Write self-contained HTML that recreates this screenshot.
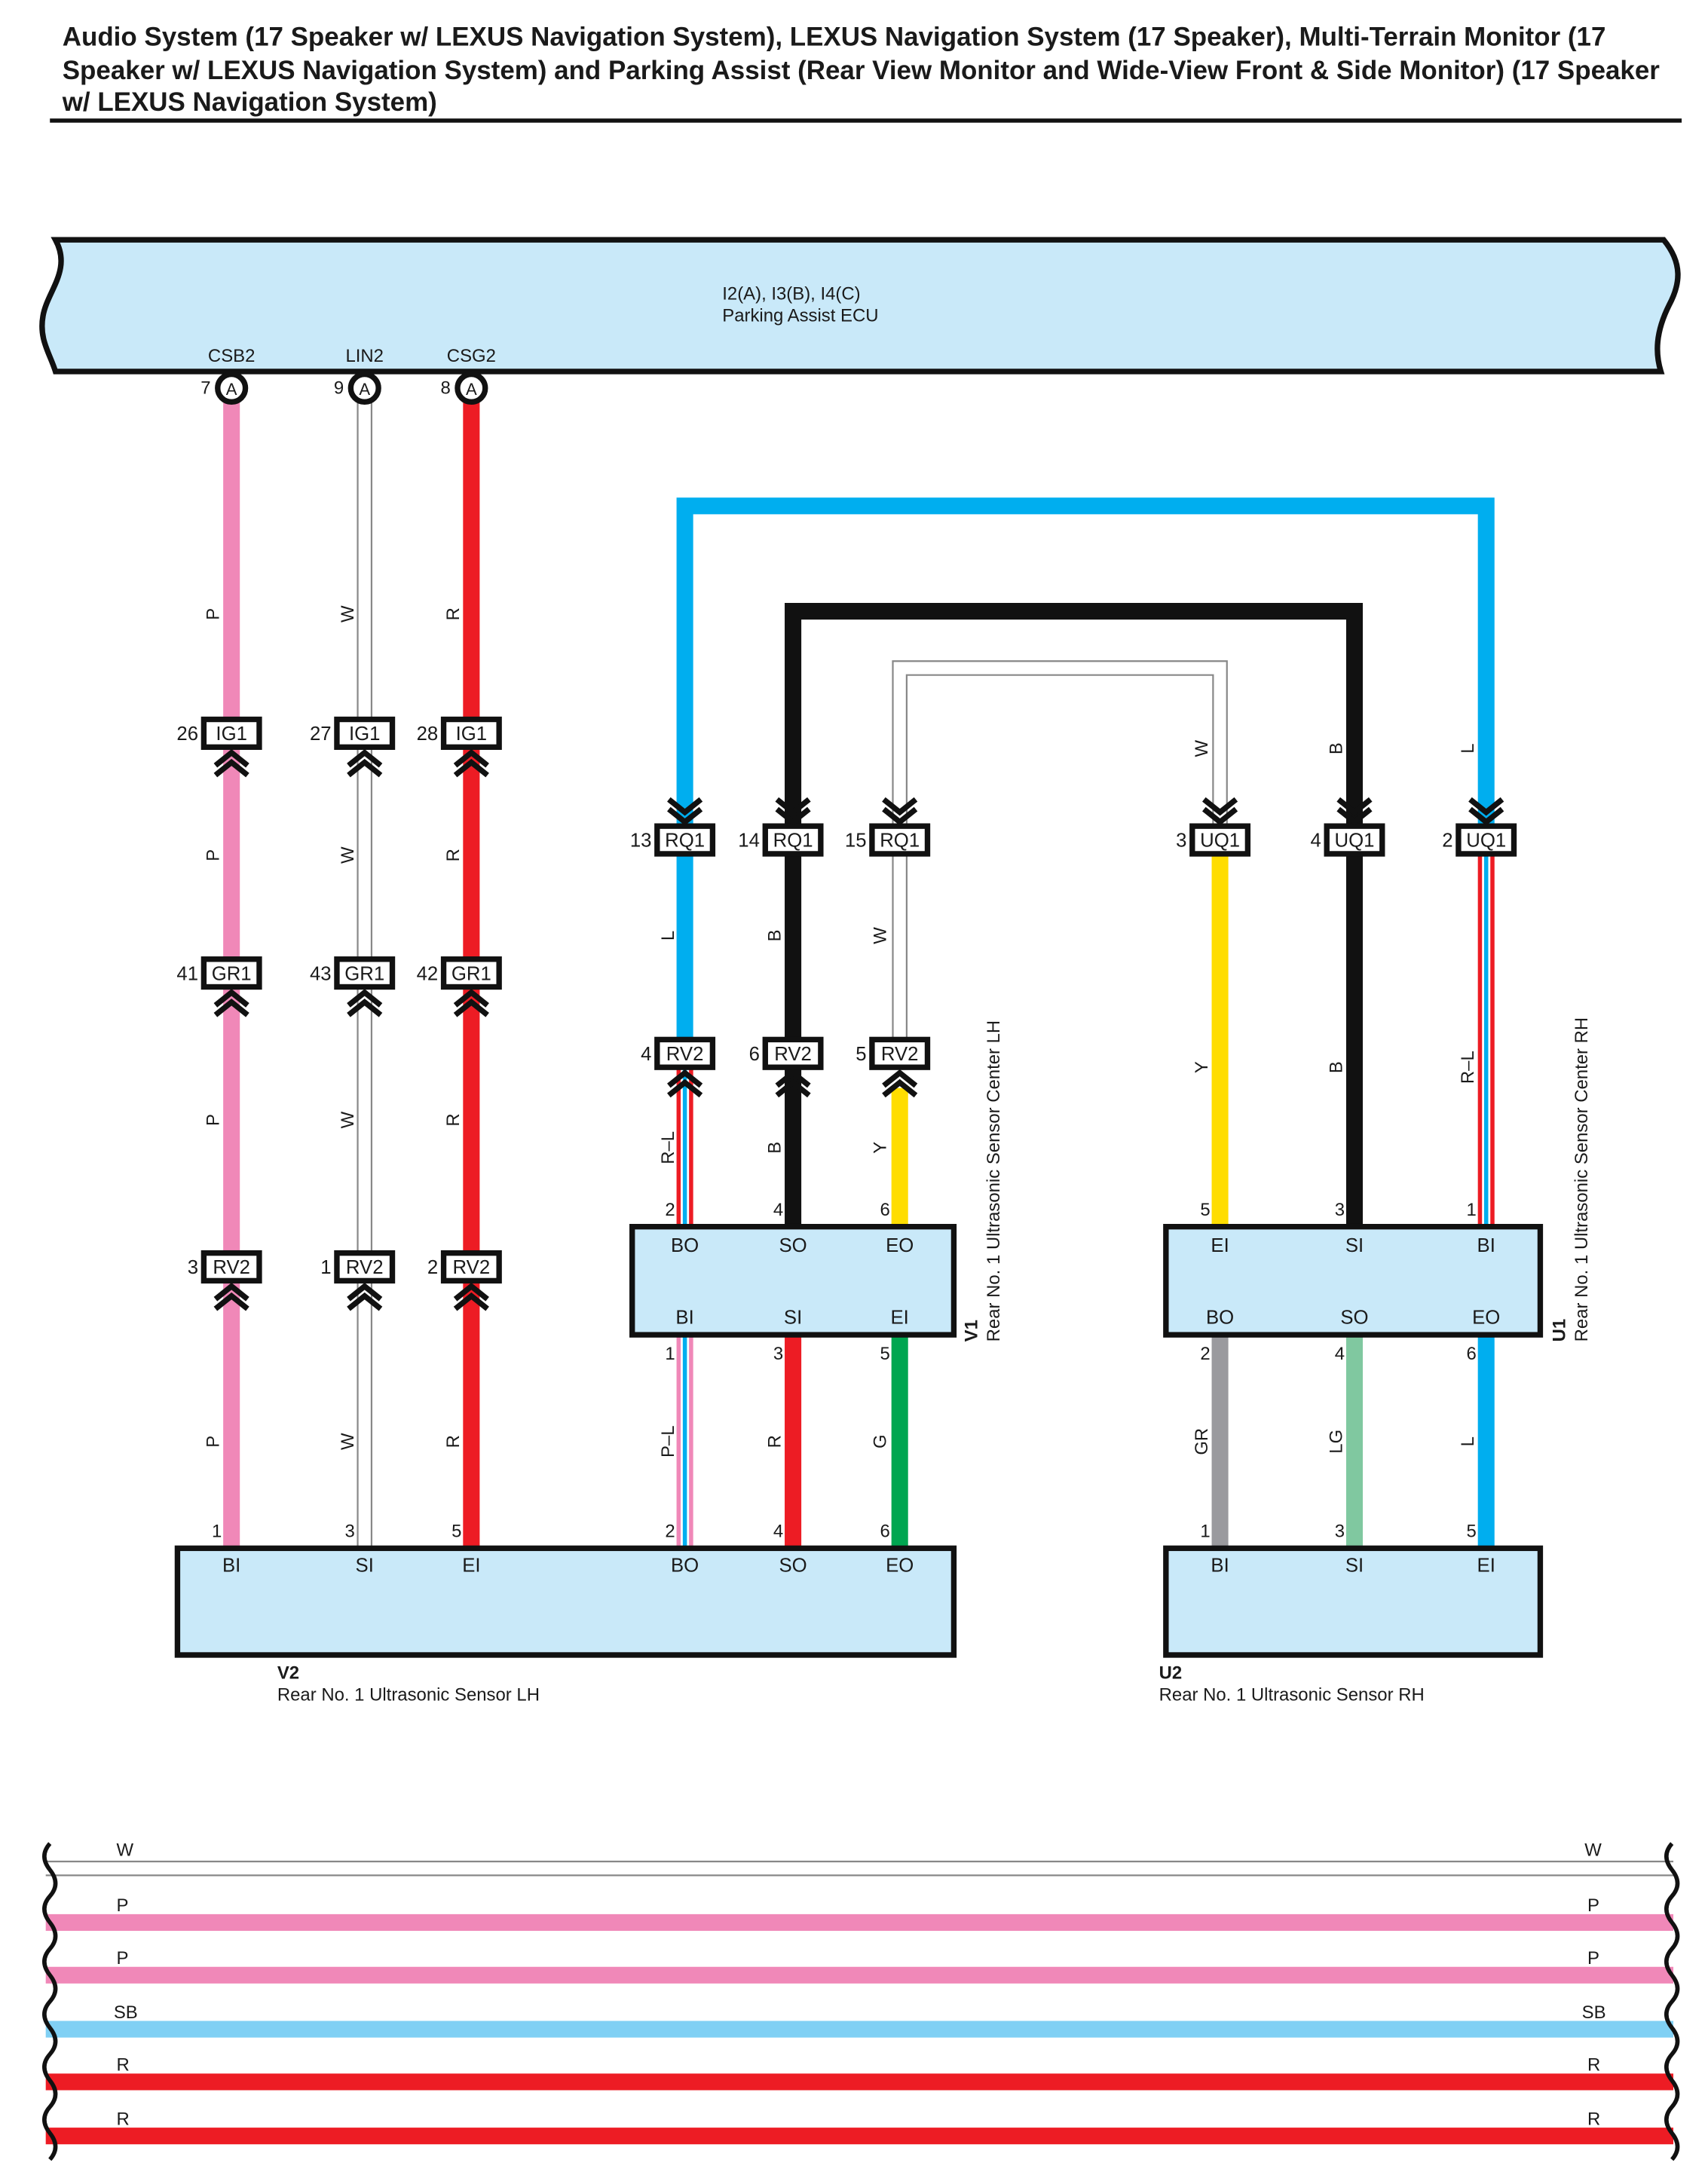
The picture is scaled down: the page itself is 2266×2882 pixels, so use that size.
<!DOCTYPE html>
<html><head><meta charset="utf-8"><style>
html,body{margin:0;padding:0;background:#fff;}
svg{display:block;}
text{font-family:"Liberation Sans",Arial,sans-serif;fill:#1a1a1a;}
</style></head><body>
<svg width="2266" height="2882" viewBox="0 0 1232 1567" preserveAspectRatio="none" xmlns="http://www.w3.org/2000/svg">
<!-- Title -->
<g font-weight="bold" font-size="19">
<text x="45" y="33">Audio System (17 Speaker w/ LEXUS Navigation System), LEXUS Navigation System (17 Speaker), Multi-Terrain Monitor (17</text>
<text x="45" y="57">Speaker w/ LEXUS Navigation System) and Parking Assist (Rear View Monitor and Wide-View Front &amp; Side Monitor) (17 Speaker</text>
<text x="45" y="80">w/ LEXUS Navigation System)</text>
</g>
<line x1="36" y1="87" x2="1213" y2="87" stroke="#111" stroke-width="3"/>

<!-- ECU bar -->
<path d="M40,173 L1200,173 C1214,190 1212,205 1204,220 C1194,240 1194,255 1198,268 L40,268 C36,255 28,245 31,228 C34,210 52,195 40,173 Z" fill="#c9e9f9" stroke="#111" stroke-width="4"/>
<text x="521" y="216" font-size="13">I2(A), I3(B), I4(C)</text>
<text x="521" y="232" font-size="13">Parking Assist ECU</text>
<g font-size="13" text-anchor="middle">
<text x="167" y="261">CSB2</text><text x="263" y="261">LIN2</text><text x="340" y="261">CSG2</text>
</g>

<!-- Loops -->
<path d="M494,596 V365 H1072 V596" fill="none" stroke="#00aeef" stroke-width="12"/>
<path d="M572,596 V441 H977 V596" fill="none" stroke="#111" stroke-width="12"/>
<path d="M644,596 V477 H885 V596" fill="none" stroke="#888" stroke-width="1.2"/>
<path d="M654,596 V487 H875 V596" fill="none" stroke="#888" stroke-width="1.2"/>

<!-- Left column wires -->
<line x1="167" y1="290" x2="167" y2="1117" stroke="#f088b8" stroke-width="12"/>
<line x1="258" y1="290" x2="258" y2="1117" stroke="#888" stroke-width="1.2"/>
<line x1="268" y1="290" x2="268" y2="1117" stroke="#888" stroke-width="1.2"/>
<line x1="340" y1="290" x2="340" y2="1117" stroke="#ed1c24" stroke-width="12"/>

<!-- middle wires -->
<line x1="494" y1="610" x2="494" y2="770" stroke="#00aeef" stroke-width="12"/>
<line x1="494" y1="770" x2="494" y2="885" stroke="#ed1c24" stroke-width="12"/>
<line x1="494" y1="770" x2="494" y2="885" stroke="#fff" stroke-width="6"/>
<line x1="494" y1="770" x2="494" y2="885" stroke="#00aeef" stroke-width="3"/>
<line x1="572" y1="610" x2="572" y2="885" stroke="#111" stroke-width="12"/>
<line x1="644" y1="610" x2="644" y2="770" stroke="#888" stroke-width="1.2"/>
<line x1="654" y1="610" x2="654" y2="770" stroke="#888" stroke-width="1.2"/>
<line x1="649" y1="785" x2="649" y2="885" stroke="#ffdd00" stroke-width="12"/>
<line x1="494" y1="963" x2="494" y2="1117" stroke="#f088b8" stroke-width="12"/>
<line x1="494" y1="963" x2="494" y2="1117" stroke="#fff" stroke-width="6"/>
<line x1="494" y1="963" x2="494" y2="1117" stroke="#00aeef" stroke-width="3"/>
<line x1="572" y1="963" x2="572" y2="1117" stroke="#ed1c24" stroke-width="12"/>
<line x1="649" y1="963" x2="649" y2="1117" stroke="#00a651" stroke-width="12"/>

<!-- right wires -->
<line x1="880" y1="610" x2="880" y2="885" stroke="#ffdd00" stroke-width="12"/>
<line x1="977" y1="610" x2="977" y2="885" stroke="#111" stroke-width="12"/>
<line x1="1072" y1="610" x2="1072" y2="885" stroke="#ed1c24" stroke-width="12"/>
<line x1="1072" y1="610" x2="1072" y2="885" stroke="#fff" stroke-width="6"/>
<line x1="1072" y1="610" x2="1072" y2="885" stroke="#00aeef" stroke-width="3"/>
<line x1="880" y1="963" x2="880" y2="1117" stroke="#9a9a9e" stroke-width="12"/>
<line x1="977" y1="963" x2="977" y2="1117" stroke="#80c8a0" stroke-width="12"/>
<line x1="1072" y1="963" x2="1072" y2="1117" stroke="#00aeef" stroke-width="12"/>

<!-- ECU circles -->
<g stroke="#111" stroke-width="4" fill="#fff">
<circle cx="167" cy="280" r="10"/><circle cx="263" cy="280" r="10"/><circle cx="340" cy="280" r="10"/>
</g>
<g font-size="12" text-anchor="middle">
<text x="167" y="285">A</text><text x="263" y="285">A</text><text x="340" y="285">A</text>
</g>
<g font-size="13" text-anchor="end">
<text x="152" y="284">7</text><text x="248" y="284">9</text><text x="325" y="284">8</text>
</g>

<!-- Connector boxes -->
<g stroke="#111" stroke-width="4" fill="#fff">
<rect x="147" y="519" width="40" height="20"/><rect x="243" y="519" width="40" height="20"/><rect x="320" y="519" width="40" height="20"/>
<rect x="147" y="692" width="40" height="20"/><rect x="243" y="692" width="40" height="20"/><rect x="320" y="692" width="40" height="20"/>
<rect x="147" y="904" width="40" height="20"/><rect x="243" y="904" width="40" height="20"/><rect x="320" y="904" width="40" height="20"/>
<rect x="474" y="596" width="40" height="20"/><rect x="552" y="596" width="40" height="20"/><rect x="629" y="596" width="40" height="20"/>
<rect x="474" y="750" width="40" height="20"/><rect x="552" y="750" width="40" height="20"/><rect x="629" y="750" width="40" height="20"/>
<rect x="860" y="596" width="40" height="20"/><rect x="957" y="596" width="40" height="20"/><rect x="1052" y="596" width="40" height="20"/>
</g>
<g font-size="14" text-anchor="middle">
<text x="167" y="534">IG1</text><text x="263" y="534">IG1</text><text x="340" y="534">IG1</text>
<text x="167" y="707">GR1</text><text x="263" y="707">GR1</text><text x="340" y="707">GR1</text>
<text x="167" y="919">RV2</text><text x="263" y="919">RV2</text><text x="340" y="919">RV2</text>
<text x="494" y="611">RQ1</text><text x="572" y="611">RQ1</text><text x="649" y="611">RQ1</text>
<text x="494" y="765">RV2</text><text x="572" y="765">RV2</text><text x="649" y="765">RV2</text>
<text x="880" y="611">UQ1</text><text x="977" y="611">UQ1</text><text x="1072" y="611">UQ1</text>
</g>
<g font-size="14" text-anchor="end">
<text x="143" y="534">26</text><text x="239" y="534">27</text><text x="316" y="534">28</text>
<text x="143" y="707">41</text><text x="239" y="707">43</text><text x="316" y="707">42</text>
<text x="143" y="919">3</text><text x="239" y="919">1</text><text x="316" y="919">2</text>
<text x="470" y="611">13</text><text x="548" y="611">14</text><text x="625" y="611">15</text>
<text x="470" y="765">4</text><text x="548" y="765">6</text><text x="625" y="765">5</text>
<text x="856" y="611">3</text><text x="953" y="611">4</text><text x="1048" y="611">2</text>
</g>

<!-- Chevrons -->
<g fill="none" stroke="#111" stroke-width="4" stroke-linecap="square">
<path d="M157,551 L167,543 L177,551 M157,558 L167,550 L177,558"/>
<path d="M253,551 L263,543 L273,551 M253,558 L263,550 L273,558"/>
<path d="M330,551 L340,543 L350,551 M330,558 L340,550 L350,558"/>
<path d="M157,724 L167,716 L177,724 M157,731 L167,723 L177,731"/>
<path d="M253,724 L263,716 L273,724 M253,731 L263,723 L273,731"/>
<path d="M330,724 L340,716 L350,724 M330,731 L340,723 L350,731"/>
<path d="M157,936 L167,928 L177,936 M157,943 L167,935 L177,943"/>
<path d="M253,936 L263,928 L273,936 M253,943 L263,935 L273,943"/>
<path d="M330,936 L340,928 L350,936 M330,943 L340,935 L350,943"/>
<path d="M484,782 L494,774 L504,782 M484,789 L494,781 L504,789"/>
<path d="M562,782 L572,774 L582,782 M562,789 L572,781 L582,789"/>
<path d="M639,782 L649,774 L659,782 M639,789 L649,781 L659,789"/>
<path d="M484,578 L494,586 L504,578 M484,585 L494,593 L504,585"/>
<path d="M562,578 L572,586 L582,578 M562,585 L572,593 L582,585"/>
<path d="M639,578 L649,586 L659,578 M639,585 L649,593 L659,585"/>
<path d="M870,578 L880,586 L890,578 M870,585 L880,593 L890,585"/>
<path d="M967,578 L977,586 L987,578 M967,585 L977,593 L987,585"/>
<path d="M1062,578 L1072,586 L1082,578 M1062,585 L1072,593 L1082,585"/>
</g>

<!-- Component boxes -->
<g fill="#c9e9f9" stroke="#111" stroke-width="4">
<rect x="128" y="1117" width="560" height="77"/>
<rect x="456" y="885" width="232" height="78"/>
<rect x="841" y="885" width="270" height="78"/>
<rect x="841" y="1117" width="270" height="77"/>
</g>
<g font-size="14" text-anchor="middle">
<text x="167" y="1134">BI</text><text x="263" y="1134">SI</text><text x="340" y="1134">EI</text>
<text x="494" y="1134">BO</text><text x="572" y="1134">SO</text><text x="649" y="1134">EO</text>
<text x="494" y="903">BO</text><text x="572" y="903">SO</text><text x="649" y="903">EO</text>
<text x="494" y="955">BI</text><text x="572" y="955">SI</text><text x="649" y="955">EI</text>
<text x="880" y="903">EI</text><text x="977" y="903">SI</text><text x="1072" y="903">BI</text>
<text x="880" y="955">BO</text><text x="977" y="955">SO</text><text x="1072" y="955">EO</text>
<text x="880" y="1134">BI</text><text x="977" y="1134">SI</text><text x="1072" y="1134">EI</text>
</g>
<g font-size="13" text-anchor="end">
<text x="160" y="1109">1</text><text x="256" y="1109">3</text><text x="333" y="1109">5</text>
<text x="487" y="1109">2</text><text x="565" y="1109">4</text><text x="642" y="1109">6</text>
<text x="487" y="877">2</text><text x="565" y="877">4</text><text x="642" y="877">6</text>
<text x="487" y="981">1</text><text x="565" y="981">3</text><text x="642" y="981">5</text>
<text x="873" y="877">5</text><text x="970" y="877">3</text><text x="1065" y="877">1</text>
<text x="873" y="981">2</text><text x="970" y="981">4</text><text x="1065" y="981">6</text>
<text x="873" y="1109">1</text><text x="970" y="1109">3</text><text x="1065" y="1109">5</text>
</g>

<!-- component labels -->
<text x="200" y="1211" font-size="13" font-weight="bold">V2</text>
<text x="200" y="1227" font-size="13">Rear No.  1 Ultrasonic Sensor LH</text>
<text x="836" y="1211" font-size="13" font-weight="bold">U2</text>
<text x="836" y="1227" font-size="13">Rear No.  1 Ultrasonic Sensor RH</text>
<g transform="translate(705,968) rotate(-90)"><text x="0" y="0" font-size="13" font-weight="bold">V1</text><text x="0" y="16" font-size="13">Rear No.  1 Ultrasonic Sensor Center LH</text></g>
<g transform="translate(1129,968) rotate(-90)"><text x="0" y="0" font-size="13" font-weight="bold">U1</text><text x="0" y="16" font-size="13">Rear No.  1 Ultrasonic Sensor Center RH</text></g>

<!-- wire labels -->
<g font-size="13" text-anchor="middle">
<text transform="translate(158,443) rotate(-90)">P</text>
<text transform="translate(158,617) rotate(-90)">P</text>
<text transform="translate(158,808) rotate(-90)">P</text>
<text transform="translate(158,1040) rotate(-90)">P</text>
<text transform="translate(255,443) rotate(-90)">W</text>
<text transform="translate(255,617) rotate(-90)">W</text>
<text transform="translate(255,808) rotate(-90)">W</text>
<text transform="translate(255,1040) rotate(-90)">W</text>
<text transform="translate(331,443) rotate(-90)">R</text>
<text transform="translate(331,617) rotate(-90)">R</text>
<text transform="translate(331,808) rotate(-90)">R</text>
<text transform="translate(331,1040) rotate(-90)">R</text>
<text transform="translate(486,675) rotate(-90)">L</text>
<text transform="translate(563,675) rotate(-90)">B</text>
<text transform="translate(639,675) rotate(-90)">W</text>
<text transform="translate(486,828) rotate(-90)">R–L</text>
<text transform="translate(563,828) rotate(-90)">B</text>
<text transform="translate(639,828) rotate(-90)">Y</text>
<text transform="translate(486,1040) rotate(-90)">P–L</text>
<text transform="translate(563,1040) rotate(-90)">R</text>
<text transform="translate(639,1040) rotate(-90)">G</text>
<text transform="translate(871,540) rotate(-90)">W</text>
<text transform="translate(968,540) rotate(-90)">B</text>
<text transform="translate(1063,540) rotate(-90)">L</text>
<text transform="translate(871,770) rotate(-90)">Y</text>
<text transform="translate(968,770) rotate(-90)">B</text>
<text transform="translate(1063,770) rotate(-90)">R–L</text>
<text transform="translate(871,1040) rotate(-90)">GR</text>
<text transform="translate(968,1040) rotate(-90)">LG</text>
<text transform="translate(1063,1040) rotate(-90)">L</text>
</g>

<!-- bottom wires -->
<line x1="33" y1="1343" x2="1207" y2="1343" stroke="#888" stroke-width="1.2"/>
<line x1="33" y1="1353" x2="1207" y2="1353" stroke="#888" stroke-width="1.2"/>
<line x1="33" y1="1387" x2="1207" y2="1387" stroke="#f088b8" stroke-width="12"/>
<line x1="33" y1="1425" x2="1207" y2="1425" stroke="#f088b8" stroke-width="12"/>
<line x1="33" y1="1464" x2="1207" y2="1464" stroke="#80d0f4" stroke-width="12"/>
<line x1="33" y1="1502" x2="1207" y2="1502" stroke="#ed1c24" stroke-width="12"/>
<line x1="33" y1="1541" x2="1207" y2="1541" stroke="#ed1c24" stroke-width="12"/>
<g font-size="13">
<text x="84" y="1339">W</text><text x="84" y="1379">P</text><text x="84" y="1417">P</text><text x="82" y="1456">SB</text><text x="84" y="1494">R</text><text x="84" y="1533">R</text>
<text x="1143" y="1339">W</text><text x="1145" y="1379">P</text><text x="1145" y="1417">P</text><text x="1141" y="1456">SB</text><text x="1145" y="1494">R</text><text x="1145" y="1533">R</text>
</g>
<g fill="none" stroke="#111" stroke-width="3">
<path d="M36,1330 q-8,9 0,19 q8,10 0,19 q-8,9 0,19 q8,10 0,19 q-8,9 0,19 q8,10 0,19 q-8,9 0,19 q8,10 0,19 q-8,9 0,19 q8,10 0,19 q-8,9 0,19 q8,10 0,19"/>
<path d="M1206,1330 q-8,9 0,19 q8,10 0,19 q-8,9 0,19 q8,10 0,19 q-8,9 0,19 q8,10 0,19 q-8,9 0,19 q8,10 0,19 q-8,9 0,19 q8,10 0,19 q-8,9 0,19 q8,10 0,19"/>
</g>
</svg>
</body></html>
